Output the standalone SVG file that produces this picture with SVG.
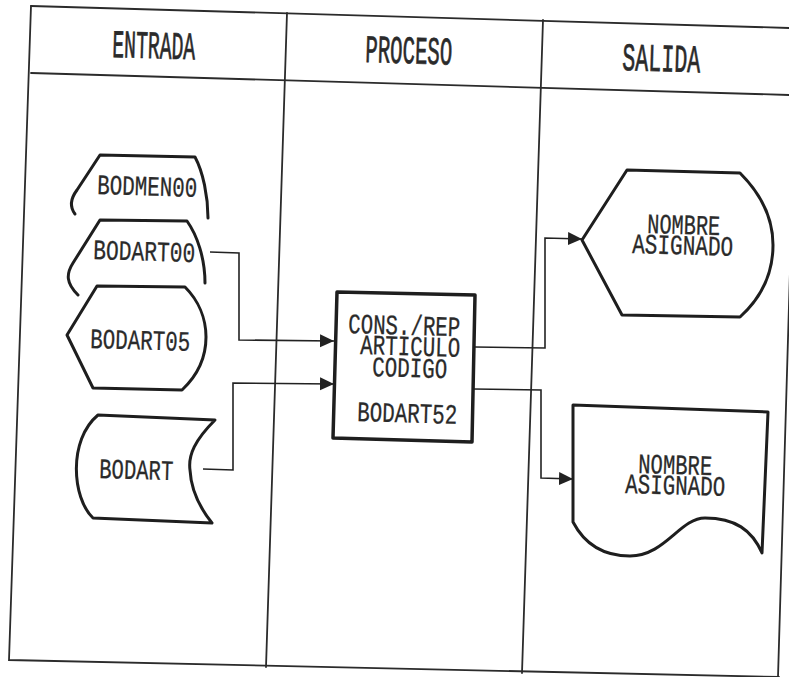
<svg xmlns="http://www.w3.org/2000/svg" width="789" height="677" viewBox="0 0 789 677">
<defs>
<style>
.frame{fill:none;stroke:#2b2b2b;stroke-width:1.8;stroke-linecap:round}
.shape{fill:none;stroke:#1e1e1e;stroke-width:3;stroke-linejoin:round;stroke-linecap:round}
.conn{fill:none;stroke:#222;stroke-width:1.6}
.hdr{font-family:"Liberation Mono","DejaVu Sans Mono",monospace;font-size:39px;fill:#2a2a2a;stroke:#2a2a2a;stroke-width:0.7}
.lbl{font-family:"Liberation Mono","DejaVu Sans Mono",monospace;font-size:28px;fill:#2a2a2a;stroke:#2a2a2a;stroke-width:0.3}
</style>
<marker id="arr" markerUnits="userSpaceOnUse" markerWidth="15" markerHeight="15" refX="14" refY="7.5" orient="auto">
<path d="M0,1 L14,7.5 L0,14 Z" fill="#222"/>
</marker>
</defs>
<rect width="789" height="677" fill="#fff"/>
<g id="frame">
<path class="frame" d="M31,6 L800,28.3"/>
<path class="frame" d="M31,73 L800,95.3"/>
<path class="frame" d="M31,6 L9,660 L779,677"/>
<path class="frame" d="M798,0 L778,677"/>
<path class="frame" d="M287,13 L266,667"/>
<path class="frame" d="M543,20 L522,673"/>
<text class="hdr" x="112" y="57" textLength="83" lengthAdjust="spacingAndGlyphs" transform="rotate(1.7 112 57)">ENTRADA</text>
<text class="hdr" x="365" y="62" textLength="87" lengthAdjust="spacingAndGlyphs" transform="rotate(1.7 365 62)">PROCESO</text>
<text class="hdr" x="622" y="70" textLength="78" lengthAdjust="spacingAndGlyphs" transform="rotate(1.7 622 70)">SALIDA</text>
</g>
<g id="connectors">
<path class="conn" d="M210,252 L239,253 L239,340 L334,341" marker-end="url(#arr)"/>
<path class="conn" d="M203,469 L233,470 L233,383 L334,384" marker-end="url(#arr)"/>
<path class="conn" d="M475,347 L545,348 L545,238 L582,239" marker-end="url(#arr)"/>
<path class="conn" d="M473,389 L541,390 L541,478 L573,479" marker-end="url(#arr)"/>
</g>
<g id="bodmen00">
<path class="shape" d="M75,214 C69,206 71,198 77,190 L100,155 L195,157 C203,172 208,196 208,218"/>
<text class="lbl" x="97" y="194" textLength="100" lengthAdjust="spacingAndGlyphs" transform="rotate(1.7 97 194)">BODMEN00</text>
</g>
<g id="bodart00">
<path class="shape" d="M78,295 C66,283 66,274 73,263 L100,220 L187,221 C197,235 205,258 205,283"/>
<text class="lbl" x="93" y="259" textLength="102" lengthAdjust="spacingAndGlyphs" transform="rotate(1.7 93 259)">BODART00</text>
</g>
<g id="bodart05">
<path class="shape" d="M67,335 L97,286 L185,287 C198,300 206,318 206,337 C206,358 198,375 182,390 L93,388 Z"/>
<text class="lbl" x="90" y="348" textLength="100" lengthAdjust="spacingAndGlyphs" transform="rotate(1.7 90 348)">BODART05</text>
</g>
<g id="bodart">
<path class="shape" d="M98,415 L215,420 C195,440 188,455 190,470 C191,490 200,508 212,523 L93,518 C72,498 68,440 98,415 Z"/>
<text class="lbl" x="99" y="478" textLength="74" lengthAdjust="spacingAndGlyphs" transform="rotate(1.7 99 478)">BODART</text>
</g>
<g id="bodart52">
<path class="shape" d="M337,292 L475,295 L472,442 L333,438 Z" style="stroke-width:3.5"/>
<text class="lbl" x="348" y="333" textLength="112" lengthAdjust="spacingAndGlyphs" transform="rotate(1.7 348 333)">CONS./REP</text>
<text class="lbl" x="360" y="354" textLength="100" lengthAdjust="spacingAndGlyphs" transform="rotate(1.7 360 354)">ARTICULO</text>
<text class="lbl" x="372" y="376" textLength="75" lengthAdjust="spacingAndGlyphs" transform="rotate(1.7 372 376)">CODIGO</text>
<text class="lbl" x="357" y="421" textLength="100" lengthAdjust="spacingAndGlyphs" transform="rotate(1.7 357 421)">BODART52</text>
</g>
<g id="pantalla">
<path class="shape" d="M582,240 L627,170 L740,173 C762,195 773,220 773,245 C773,272 762,297 740,317 L622,315 Z"/>
<text class="lbl" x="647" y="233" textLength="73" lengthAdjust="spacingAndGlyphs" transform="rotate(1.7 647 233)">NOMBRE</text>
<text class="lbl" x="632" y="253" textLength="101" lengthAdjust="spacingAndGlyphs" transform="rotate(1.7 632 253)">ASIGNADO</text>
</g>
<g id="reporte">
<path class="shape" d="M573,522 L573,405 L768,412 L762,553 C752,530 735,518 705,518 C680,518 665,556 630,556 C605,556 585,545 573,522 Z"/>
<text class="lbl" x="638" y="473" textLength="74" lengthAdjust="spacingAndGlyphs" transform="rotate(1.7 638 473)">NOMBRE</text>
<text class="lbl" x="625" y="493" textLength="100" lengthAdjust="spacingAndGlyphs" transform="rotate(1.7 625 493)">ASIGNADO</text>
</g>
</svg>
